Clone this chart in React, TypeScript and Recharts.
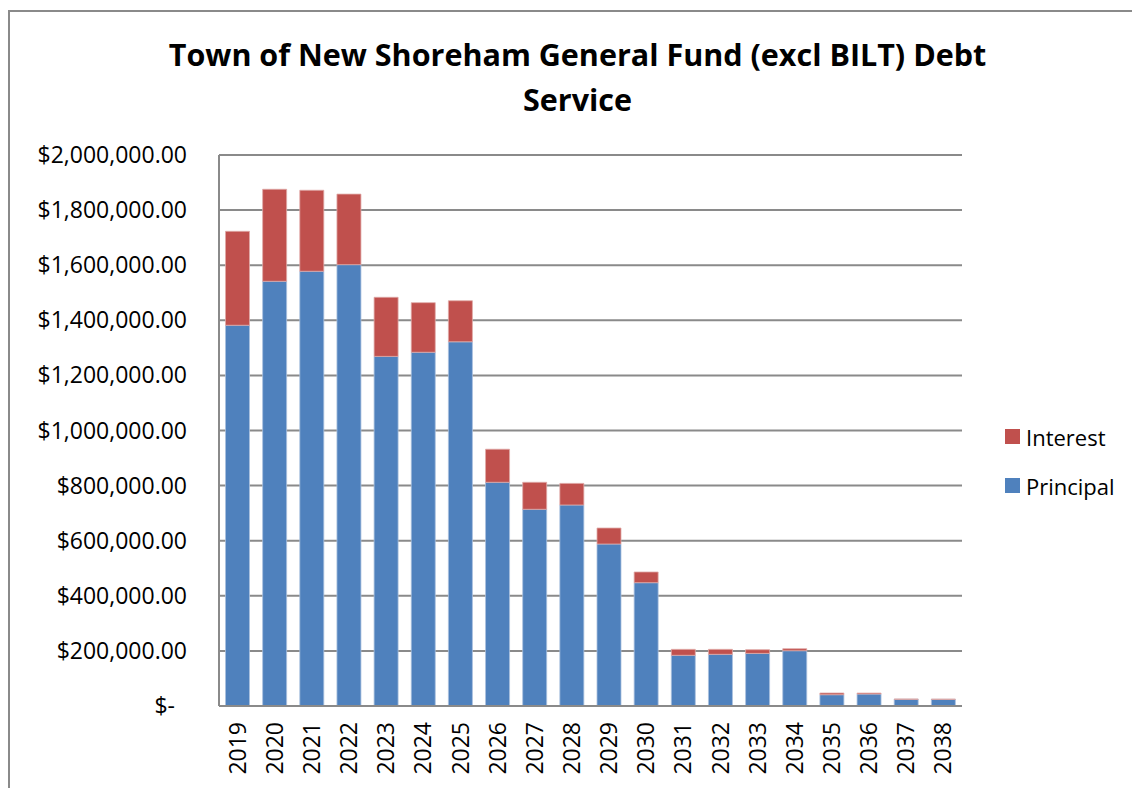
import React from "react";
import { BarChart, Bar, XAxis, YAxis, CartesianGrid, Legend } from "recharts";

const years = ["2019","2020","2021","2022","2023","2024","2025","2026","2027","2028","2029","2030","2031","2032","2033","2034","2035","2036","2037","2038"];
const principal = [1382000,1541600,1578000,1602000,1269000,1284000,1322000,812000,714000,729600,588000,447600,184000,187600,191000,200700,41000,43500,24300,24000];
const interest = [341000,334000,294000,256000,214500,180000,149000,120000,98000,78400,58000,38800,21700,18100,13400,7300,6200,3500,1100,1000];
const yTicks = [0,200000,400000,600000,800000,1000000,1200000,1400000,1600000,1800000,2000000];
const titleLines = ["Town of New Shoreham General Fund (excl BILT) Debt", "Service"];
const legendOrder = ["Interest", "Principal"];

const data = years.map((y, i) => ({ year: y, Principal: principal[i], Interest: interest[i] }));

const FONT = "'Open Sans', 'Liberation Sans', sans-serif";
const BLUE = "#4F81BD";
const RED = "#C0504D";
const GRID = "#8a8a8a";

const fmt = (v: number) =>
  v === 0 ? "$-" : "$" + v.toLocaleString("en-US", { minimumFractionDigits: 2, maximumFractionDigits: 2 });

const YTick = (props: any) => {
  const { x, y, payload } = props;
  const v = payload.value as number;
  return (
    <text x={v === 0 ? x - 12 : x} y={y} dy="0.35em" textAnchor="end" fontSize={23} fill="#000" fontFamily={FONT}>
      {fmt(v)}
    </text>
  );
};

const XTick = (props: any) => {
  const { x, y, payload } = props;
  return (
    <text x={0} y={0} dy="0.35em" transform={`translate(${x},${y + 16}) rotate(-90)`} textAnchor="end" fontSize={23} fill="#000" fontFamily={FONT}>
      {payload.value}
    </text>
  );
};

const LegendContent = (props: any) => {
  const items = [...(props.payload || [])].sort(
    (a: any, b: any) => legendOrder.indexOf(a.value) - legendOrder.indexOf(b.value)
  );
  return (
    <div style={{ fontFamily: FONT, fontSize: 22, color: "#000" }}>
      {items.map((it: any) => (
        <div key={it.value} style={{ display: "flex", alignItems: "center", height: 49 }}>
          <span style={{ display: "inline-block", width: 15, height: 15, background: it.color, marginRight: 6 }} />
          <span>{it.value}</span>
        </div>
      ))}
    </div>
  );
};

export default function App() {
  return (
    <div style={{ position: "absolute", left: 0, top: 0, width: 1132, height: 788, background: "#fff", overflow: "hidden" }}>
      <div style={{ position: "absolute", left: 8, top: 10, width: 1130, height: 790, borderLeft: `2px solid ${GRID}`, borderTop: `2px solid ${GRID}` }} />
      <div style={{ position: "absolute", left: 0, top: 32, width: 1155, textAlign: "center", fontFamily: FONT, fontWeight: 700, fontSize: 30.5, lineHeight: "45px", color: "#000" }}>
        {titleLines.map((l) => (
          <div key={l}>{l}</div>
        ))}
      </div>
      <div style={{ position: "absolute", left: 0, top: 0 }}>
        <BarChart width={1132} height={788} data={data} margin={{ top: 155, right: 170, bottom: 0, left: 0 }} barCategoryGap="17.5%">
          <CartesianGrid vertical={false} stroke={GRID} strokeWidth={2} />
          <XAxis dataKey="year" height={82} tick={<XTick />} tickLine={false} tickSize={0} tickMargin={0} interval={0} axisLine={{ stroke: GRID, strokeWidth: 2 }} />
          <YAxis width={219} domain={[0, 2000000]} ticks={yTicks} tick={<YTick />} tickLine={false} tickSize={0} tickMargin={32} axisLine={{ stroke: GRID, strokeWidth: 2 }} interval={0} />
          <Legend layout="vertical" align="center" verticalAlign="middle" content={<LegendContent />} wrapperStyle={{ left: 1005, top: 412, width: 127 }} />
          <Bar dataKey="Principal" stackId="a" fill={BLUE} stroke="#a9c0de" strokeWidth={0.8} isAnimationActive={false} />
          <Bar dataKey="Interest" stackId="a" fill={RED} stroke="#e0a9a7" strokeWidth={0.8} isAnimationActive={false} />
        </BarChart>
      </div>
    </div>
  );
}
